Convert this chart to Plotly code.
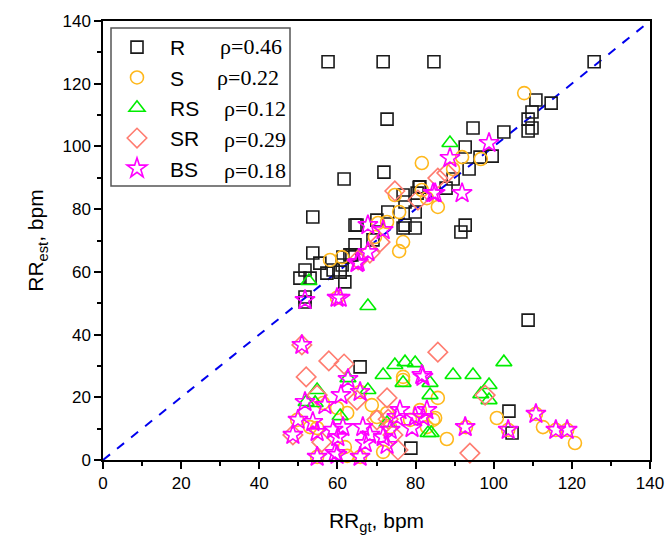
import plotly.graph_objects as go

# ---- data ----
r_x = [57.6,71.7,84.7,125.7,110.8,114.7,109.8,108.8,109.8,108.8,102.6,72.7,94.7,92.7,99.6,96.5,93.7,61.7,71.9,89.6,80.9,87.8,53.7,53.7,51.7,50.4,53.0,55.5,57.3,58.9,60.7,51.7,51.7,61.9,61.2,63.2,61.4,64.5,63.7,69.1,70.1,65.0,64.5,72.9,76.8,80.4,77.3,79.9,79.9,76.8,77.3,81.1,91.6,92.7,108.8,65.8,78.8,103.9,104.7]
r_y = [127,127,127,127,114.8,113.8,111,108.7,105.9,104.9,104.6,108.7,105.9,99.8,96.9,96.6,92.8,89.6,91.8,89.6,87,86.7,77.5,66.0,60.6,58.0,58.0,62.8,59.6,60.6,59.9,52.0,50.4,56.8,62.2,65.4,64.7,68.6,65.4,70.2,76.5,74.9,74.9,79.1,84.5,85.1,82.3,79.1,74.0,74.0,74.9,87.1,72.7,74.9,44.6,29.7,3.8,15.6,8.6]

s_x = [107.8,81.6,91.9,96.7,89.6,81.6,74.7,85.7,82.9,75.8,72.7,70.4,76.8,75.8,69.6,61.2,58.1,59.9,
       100.8,110.8,112.6,115.9,118.8,120.8,103.7,92.9,88.0,85.7,85.0,82.9,81.1,78.6,76.8,76.8,84.5,70.1,72.7,73.5,62.5,61.9,59.9,54.8,53.0,56.3,65.8,49.7,54.8,62.5,65.8,71.7,68.8]
s_y = [117.0,94.7,96.6,96.0,92.8,86.1,84.5,80.7,83.5,79.1,75.9,75.6,69.5,66.6,71.1,64.7,63.8,51.7,
       13.4,14.7,10.5,9.6,9.6,5.4,9.6,10.5,6.7,19.8,13.4,10.5,15.9,12.8,26.5,25.5,12.8,13.7,15.0,10.5,15.0,4.1,16.6,10.2,10.5,18.2,21.7,12.8,1.0,1.3,1.0,2.6,17.5]

rs_x = [88.8,67.8,52.7,102.6,94.7,98.8,96.7,98.8,89.6,79.9,77.3,76.8,83.7,83.7,84.0,71.7,74.7,67.8,62.7,54.8,52.0,54.3,60.7,72.7,83.2]
rs_y = [101.1,49.1,57.1,31.2,27.1,23.9,21.0,19.1,27.1,30.9,31.2,24.6,24.6,20.7,8.6,27.1,30.3,22.3,26.1,22.3,18.5,18.2,14.0,11.8,8.6]

sr_x = [74.7,85.7,88.0,80.6,70.9,65.3,68.3,50.9,85.7,57.8,61.7,52.0,54.8,65.0,72.7,48.6,56.0,70.1,74.2,75.5,93.9,97.8,73.0]
sr_y = [85.8,89.9,91.5,82.9,69.5,63.8,66.0,36.7,34.4,31.6,30.6,26.5,20.7,19.1,19.8,8.0,5.7,12.8,8.0,3.2,2.2,20.7,13.0]

bs_x = [98.8,88.8,84.5,91.9,85.0,67.8,71.7,67.8,65.0,60.7,51.7,59.9,65.3,50.9,62.7,60.9,65.8,81.6,81.9,51.7,
        56.8,49.9,53.7,48.6,54.8,58.9,61.4,66.5,68.3,67.1,76.0,79.1,79.9,82.9,71.7,72.7,73.5,60.1,59.4,54.8,
        65.8,59.9,92.7,81.9,75.2,110.8,103.7,115.9,118.8]
bs_y = [101.1,96.3,85.1,85.1,85.1,74.9,73.3,66.3,62.8,51.7,51.0,51.7,63.1,36.7,25.8,20.7,21.7,27.1,26.5,18.5,
        17.5,12.8,12.1,8.0,8.9,9.6,10.5,10.5,8.0,5.4,15.9,10.2,13.7,15.9,7.3,4.8,9.6,7.3,2.2,1.0,
        1.0,1.6,10.5,13.7,13.7,14.7,9.6,9.6,9.6]

series_names = ["R", "S", "RS", "SR", "BS"]
rho_labels = ["ρ=0.46", "ρ=0.22", "ρ=0.12", "ρ=0.29", "ρ=0.18"]
ref_line = [0, 140]
tick_vals = [0, 20, 40, 60, 80, 100, 120, 140]

# ---- styles ----
styles = [
    dict(symbol="square-open", color="#1a1a1a", size=12),
    dict(symbol="circle-open", color="#FFB81C", size=13),
    dict(symbol="triangle-up-open", color="#00EE00", size=14),
    dict(symbol="diamond-open", color="#FF7C70", size=15),
    dict(symbol="star-open", color="#FF00FF", size=15),
]
xs = [r_x, s_x, rs_x, sr_x, bs_x]
ys = [r_y, s_y, rs_y, sr_y, bs_y]

fig = go.Figure()
fig.add_trace(go.Scatter(x=ref_line, y=ref_line, mode="lines",
                         line=dict(color="#0000EE", width=2, dash="dash"),
                         showlegend=False, hoverinfo="skip"))
for name, x, y, st in zip(series_names, xs, ys, styles):
    fig.add_trace(go.Scatter(
        x=x, y=y, mode="markers", name=name, cliponaxis=False,
        marker=dict(symbol=st["symbol"], size=st["size"], color=st["color"],
                    line=dict(width=1.6, color=st["color"]))))

FIG_W, FIG_H = 668, 543
L, T, W, H = 103, 21, 547, 439          # plot area in window pixels
def px2x(p): return (p - L) / W
def py2y(p): return 1 - (p - T) / H

fig.add_shape(type="rect", xref="paper", yref="paper",
              x0=px2x(111), x1=px2x(290), y0=py2y(186), y1=py2y(28),
              line=dict(color="#555555", width=1.5), fillcolor="white", layer="above")

rho_x = [218, 215, 222, 222, 222]
rho_y = [46, 77, 108, 139, 170]
for lab, rx, ry in zip(rho_labels, rho_x, rho_y):
    fig.add_annotation(text=lab, xref="paper", yref="paper", x=px2x(rx), y=py2y(ry),
                       xanchor="left", yanchor="middle", showarrow=False,
                       font=dict(family="Liberation Serif", size=22, color="black"))

axis_common = dict(range=[0, 140], tickvals=tick_vals, ticks="outside", ticklen=7, tickwidth=1.5,
                   tickcolor="black", showline=True, linecolor="black", linewidth=1.5, mirror=True,
                   showgrid=False, zeroline=False, automargin=False,
                   tickfont=dict(family="Liberation Sans", size=17, color="black"),
                   minor=dict(dtick=10, ticks="outside", ticklen=4, tickwidth=1.5, tickcolor="black"))

fig.update_xaxes(**axis_common,
                 title=dict(text="RR<sub>gt</sub>, bpm", standoff=21,
                            font=dict(family="Liberation Sans", size=21, color="black")))
fig.update_yaxes(**axis_common,
                 title=dict(text="RR<sub>est</sub>, bpm", standoff=13,
                            font=dict(family="Liberation Sans", size=21, color="black")))

fig.update_layout(
    width=FIG_W, height=FIG_H, autosize=False,
    margin=dict(l=L, r=FIG_W - L - W, t=T, b=FIG_H - T - H, autoexpand=False),
    plot_bgcolor="white", paper_bgcolor="white",
    showlegend=True,
    legend=dict(x=px2x(104), y=py2y(27), xanchor="left", yanchor="top",
                bgcolor="rgba(0,0,0,0)", borderwidth=0, itemwidth=56,
                font=dict(family="Liberation Sans", size=21, color="black"),
                itemclick=False),
)

fig.write_html("out.html", config={"displayModeBar": False},
               post_script="document.body.style.margin='0';document.body.style.overflow='hidden';")
